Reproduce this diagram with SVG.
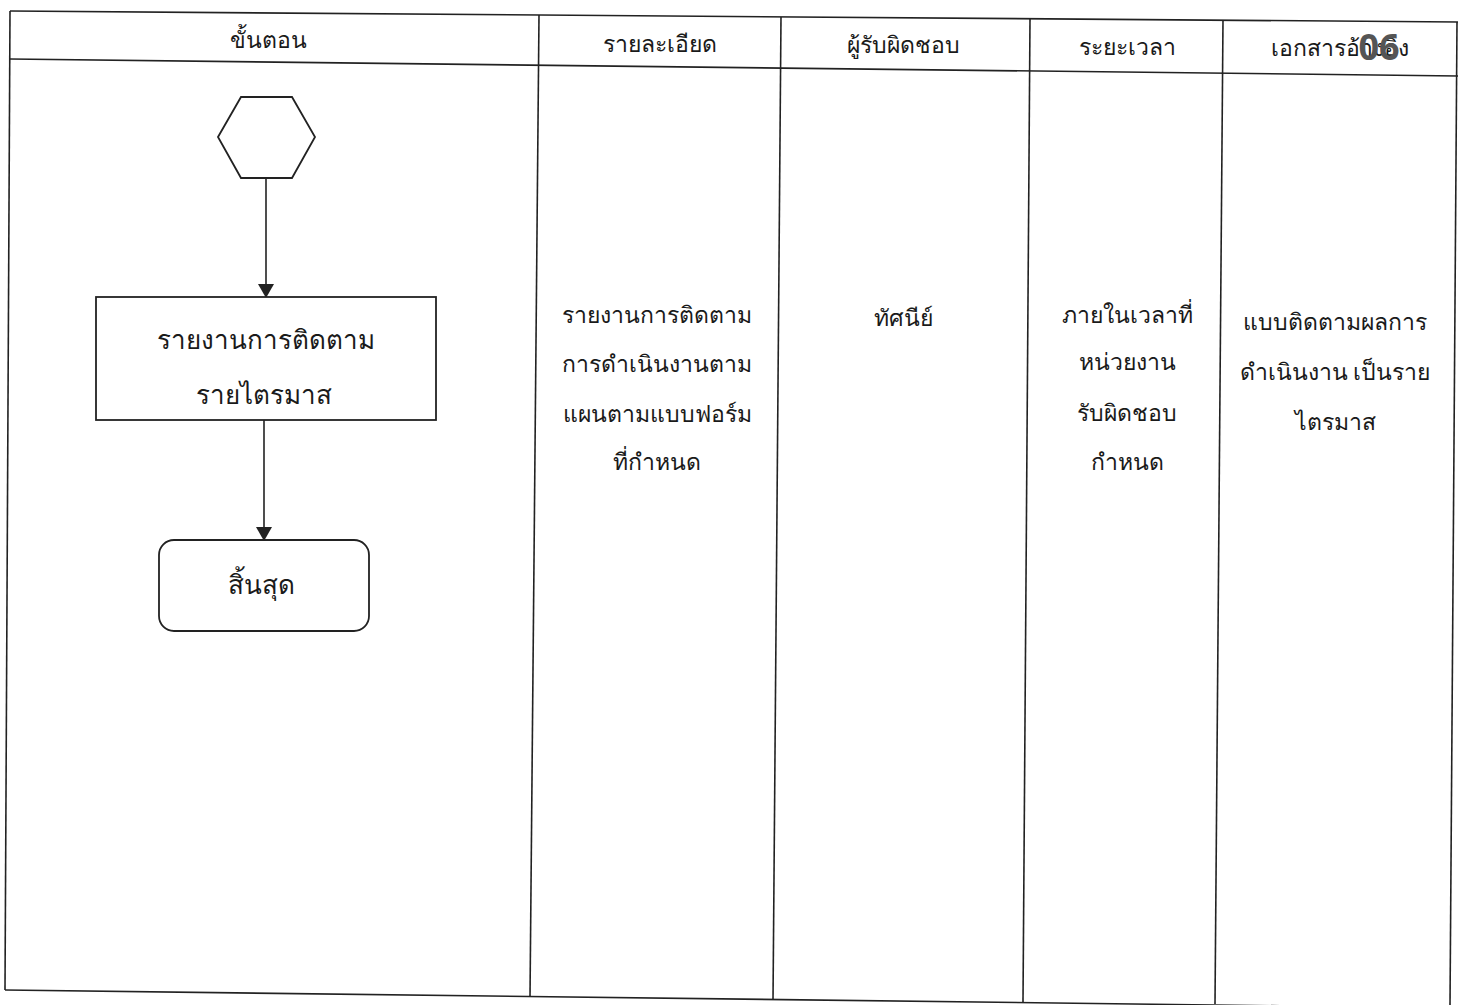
<svg xmlns="http://www.w3.org/2000/svg" width="1458" height="1005" viewBox="0 0 1458 1005">
<style>
.ln{stroke:#222;stroke-width:1.6;fill:none}
.shape{stroke:#222;stroke-width:1.8;fill:#fff}
text{font-family:"Noto Sans","DejaVu Sans",sans-serif;fill:#1a1a1a;text-anchor:middle}
.h{font-size:23px}
.b{font-size:23px}
.f{font-size:26px}
.stamp{font-size:36px;font-weight:bold;fill:#555}
</style>
<defs>
<marker id="arr" markerWidth="14" markerHeight="16" refX="13" refY="8" orient="auto" markerUnits="userSpaceOnUse">
<path d="M0,0 L14,8 L0,16 Z" fill="#222"/>
</marker>
</defs>
<rect width="1458" height="1005" fill="#fff"/>
<g id="table">
<line class="ln" x1="10" y1="11" x2="1458" y2="22"/>
<line class="ln" x1="10" y1="59" x2="1458" y2="76"/>
<line class="ln" x1="5" y1="990" x2="1458" y2="1008"/>
<line class="ln" x1="10" y1="11" x2="5" y2="990"/>
<line class="ln" x1="539" y1="15" x2="530" y2="997"/>
<line class="ln" x1="781" y1="17" x2="773" y2="1000"/>
<line class="ln" x1="1030" y1="19" x2="1023" y2="1002"/>
<line class="ln" x1="1223" y1="20" x2="1215" y2="1004"/>
<line class="ln" x1="1457" y1="22" x2="1450" y2="1005"/>
</g>
<g id="headers">
<text class="h" x="268" y="48">ขั้นตอน</text>
<text class="h" x="660" y="52">รายละเอียด</text>
<text class="h" x="903" y="53">ผู้รับผิดชอบ</text>
<text class="h" x="1127" y="55">ระยะเวลา</text>
<text class="h" x="1340" y="56">เอกสารอ้างอิง</text>
<text class="stamp" x="1379" y="60">06</text>
</g>
<g id="connectors">
<line class="ln" x1="266" y1="178" x2="266" y2="297" marker-end="url(#arr)"/>
<line class="ln" x1="264" y1="420" x2="264" y2="540" marker-end="url(#arr)"/>
</g>
<g id="start">
<polygon class="shape" points="218,137 241,97 292,97 315,137 292,178 241,178"/>
</g>
<g id="report">
<rect class="shape" x="96" y="297" width="340" height="123"/>
<text class="f" x="266" y="349">รายงานการติดตาม</text>
<text class="f" x="264" y="404">รายไตรมาส</text>
</g>
<g id="end">
<rect class="shape" x="159" y="540" width="210" height="91" rx="15"/>
<text class="f" x="261" y="594">สิ้นสุด</text>
</g>
<g id="detail">
<text class="b" x="657" y="323">รายงานการติดตาม</text>
<text class="b" x="657" y="372">การดำเนินงานตาม</text>
<text class="b" x="657" y="422">แผนตามแบบฟอร์ม</text>
<text class="b" x="657" y="470">ที่กำหนด</text>
</g>
<g id="owner">
<text class="b" x="903" y="326">ทัศนีย์</text>
</g>
<g id="period">
<text class="b" x="1127" y="323">ภายในเวลาที่</text>
<text class="b" x="1127" y="370">หน่วยงาน</text>
<text class="b" x="1127" y="421">รับผิดชอบ</text>
<text class="b" x="1127" y="470">กำหนด</text>
</g>
<g id="docs">
<text class="b" x="1335" y="330">แบบติดตามผลการ</text>
<text class="b" x="1335" y="380">ดำเนินงาน เป็นราย</text>
<text class="b" x="1335" y="430">ไตรมาส</text>
</g>
</svg>
